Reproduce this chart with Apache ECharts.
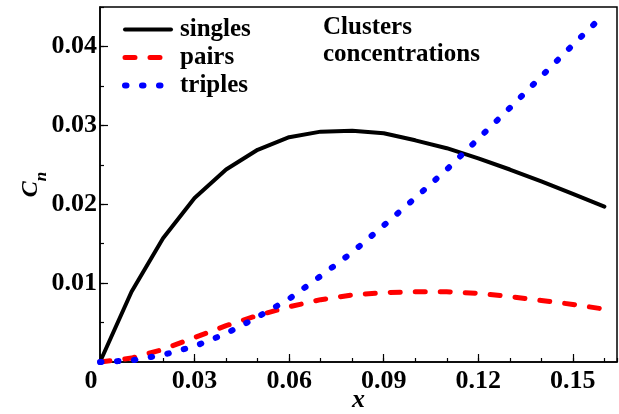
<!DOCTYPE html>
<html>
<head>
<meta charset="utf-8">
<script src="https://cdn.jsdelivr.net/npm/echarts@6/dist/echarts.min.js"></script>
<style>
html,body{margin:0;padding:0;background:#fff;}
#c{width:619px;height:414px;}
</style>
</head>
<body>
<div id="c"></div>
<script>
const xValues = [0, 0.01, 0.02, 0.03, 0.04, 0.05, 0.06, 0.07, 0.08, 0.09, 0.10, 0.11, 0.12, 0.13, 0.14, 0.15, 0.16];
const singles = [0, 0.0089, 0.0157, 0.0208, 0.0244, 0.0269, 0.0285, 0.0292, 0.0293, 0.0290, 0.0281, 0.0271, 0.0258, 0.0244, 0.0229, 0.0213, 0.0197];
const pairs   = [0, 0.0005, 0.0016, 0.0031, 0.0046, 0.0059, 0.0070, 0.0079, 0.0085, 0.0088, 0.0089, 0.0089, 0.0087, 0.0083, 0.0078, 0.0073, 0.0067];
const triples = [0, 0.0002, 0.0009, 0.0020, 0.0036, 0.0057, 0.0080, 0.0109, 0.0139, 0.0173, 0.0208, 0.0244, 0.0283, 0.0322, 0.0362, 0.0402, 0.0441];
const seriesNames = ['singles', 'pairs', 'triples'];
const titleText = 'Clusters\nconcentrations';
const xTickLabels = { 0: '0', 0.03: '0.03', 0.06: '0.06', 0.09: '0.09', 0.12: '0.12', 0.15: '0.15' };

const FONT = "'Liberation Serif','Times New Roman',serif";
const pts = arr => xValues.map((x, i) => [x, arr[i]]);

const chart = echarts.init(document.getElementById('c'), null, {renderer: 'canvas'});
const option = {
  animation: false,
  backgroundColor: '#fff',
  grid: { left: 100, right: 2, top: 7, bottom: 52, show: true, borderColor: '#000', borderWidth: 1.5, containLabel: false, outerBoundsMode: 'none' },
  title: {
    text: titleText, left: 318, top: 9,
    textStyle: { fontFamily: FONT, fontSize: 25, fontWeight: 'bold', lineHeight: 27, color: '#000' }
  },
  legend: {
    orient: 'vertical', left: 122, top: 16, padding: 0,
    itemWidth: 46, itemHeight: 14, itemGap: 1,
    data: seriesNames,
    itemStyle: { color: 'rgba(0,0,0,0)', borderWidth: 0, opacity: 0 },
    lineStyle: { width: 'inherit', type: 'inherit', cap: 'round' },
    textStyle: { fontFamily: FONT, fontSize: 25, fontWeight: 'bold', color: '#000', lineHeight: 27, padding: [0, 0, 0, 4] }
  },
  xAxis: [{
    type: 'value', min: 0, max: 0.164, interval: 0.03,
    name: 'x', nameLocation: 'middle', nameGap: 25, nameMoveOverlap: false,
    nameTextStyle: { fontFamily: FONT, fontSize: 26, fontWeight: 'bold', fontStyle: 'italic', color: '#000' },
    axisLine: { show: true, lineStyle: { color: '#000', width: 1.5 } },
    axisTick: { show: true, inside: true, length: 8, lineStyle: { color: '#000', width: 1.2 } },
    axisLabel: {
      show: true, margin: 6, showMaxLabel: false,
      fontFamily: FONT, fontSize: 26, fontWeight: 'bold', color: '#000',
      formatter: v => (Math.abs(v) < 1e-9 ? '{z|0}' : (xTickLabels[Math.round(v * 100) / 100] || '')),
      rich: { z: { fontFamily: FONT, fontSize: 26, fontWeight: 'bold', color: '#000', padding: [0, 18, 0, 0] } }
    },
    splitLine: { show: false }
  }, {
    type: 'value', min: 0, max: 0.164, interval: 0.01, position: 'bottom',
    axisLine: { show: false },
    axisTick: { show: true, inside: true, length: 4, lineStyle: { color: '#000', width: 1.2 } },
    axisLabel: { show: false },
    splitLine: { show: false }
  }],
  yAxis: [{
    type: 'value', min: 0, max: 0.045, interval: 0.01,
    name: '{c|C}{n|n}', nameLocation: 'middle', nameGap: 57, nameRotate: 90, nameMoveOverlap: false,
    nameTextStyle: {
      rich: {
        c: { fontFamily: FONT, fontSize: 24, fontWeight: 'bold', fontStyle: 'italic', color: '#000', lineHeight: 24, verticalAlign: 'top' },
        n: { fontFamily: FONT, fontSize: 17, fontWeight: 'bold', fontStyle: 'italic', color: '#000', lineHeight: 17, padding: [14, 0, 0, 0], verticalAlign: 'top' }
      }
    },
    axisLine: { show: true, lineStyle: { color: '#000', width: 1.5 } },
    axisTick: { show: true, inside: true, length: 8, lineStyle: { color: '#000', width: 1.2 } },
    axisLabel: {
      show: true, margin: 3, showMinLabel: false, showMaxLabel: false,
      fontFamily: FONT, fontSize: 26, fontWeight: 'bold', color: '#000',
      formatter: v => v.toFixed(2)
    },
    splitLine: { show: false }
  }, {
    type: 'value', min: 0, max: 0.045, interval: 0.005, position: 'left',
    axisLine: { show: false },
    axisTick: { show: true, inside: true, length: 4, lineStyle: { color: '#000', width: 1.2 } },
    axisLabel: { show: false },
    splitLine: { show: false }
  }],
  series: [{
    name: seriesNames[0], type: 'line', xAxisIndex: 0, yAxisIndex: 0,
    data: pts(singles), symbol: 'none', showSymbol: false,
    lineStyle: { color: '#000', width: 4, type: 'solid', cap: 'round', join: 'round' },
    itemStyle: { color: '#000' }
  }, {
    name: seriesNames[1], type: 'line', xAxisIndex: 0, yAxisIndex: 0,
    data: pts(pairs), symbol: 'none', showSymbol: false,
    lineStyle: { color: '#ff0000', width: 5, type: [10, 15], cap: 'round', join: 'round' },
    itemStyle: { color: '#ff0000' }
  }, {
    name: seriesNames[2], type: 'line', xAxisIndex: 0, yAxisIndex: 0,
    data: pts(triples), symbol: 'none', showSymbol: false,
    lineStyle: { color: '#0000ff', width: 6, type: [1.5, 15.5], cap: 'round', join: 'round' },
    itemStyle: { color: '#0000ff' }
  }]
};
chart.setOption(option);
</script>
</body>
</html>
